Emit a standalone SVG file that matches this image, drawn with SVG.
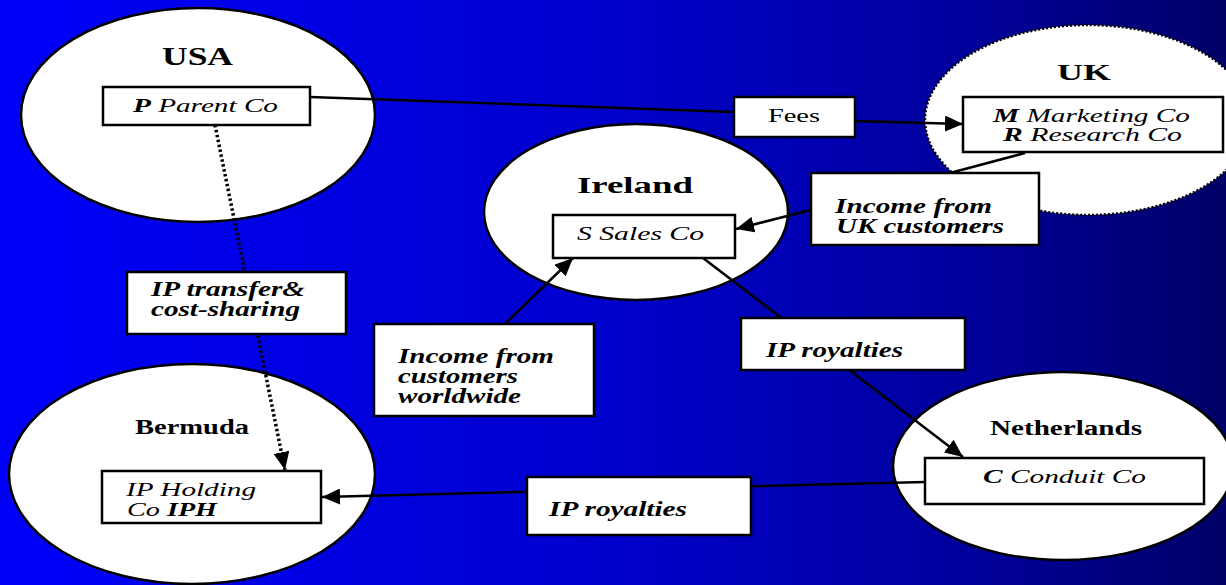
<svg xmlns="http://www.w3.org/2000/svg" width="1226" height="585" viewBox="0 0 1226 585">
<defs>
<linearGradient id="bg" x1="0" y1="0" x2="1" y2="0">
<stop offset="0" stop-color="#0000FA"/>
<stop offset="0.5" stop-color="#0000CC"/>
<stop offset="0.8" stop-color="#00009A"/>
<stop offset="1" stop-color="#000068"/>
</linearGradient>
<marker id="arr" markerUnits="userSpaceOnUse" markerWidth="20" markerHeight="16" refX="18" refY="8" orient="auto">
<path d="M0,0 L18,8 L0,16 z" fill="#000" stroke="none"/>
</marker>
<style>
.country{fill:#fff;stroke:#000;stroke-width:2.5}
.uk{fill:#fff;stroke:#000;stroke-width:2.5;stroke-dasharray:2 2}
.box{fill:#fff;stroke:#000;stroke-width:2.5}
.cname{font-family:"Liberation Serif",serif;font-weight:bold;fill:#000}
.co{font-family:"Liberation Serif",serif;font-style:italic;font-size:19px;fill:#000}
.lbl{font-family:"Liberation Serif",serif;font-style:italic;font-weight:bold;font-size:20px;fill:#000}
.plain{font-family:"Liberation Serif",serif;font-size:19px;fill:#000}
.b{font-weight:bold}
.conn{stroke:#000;stroke-width:2.5;fill:none}
.dot{stroke:#000;stroke-width:3.5;fill:none;stroke-dasharray:2.5 2.5}
</style>
</defs>
<rect x="0" y="0" width="1226" height="585" fill="url(#bg)"/>

<g id="usa">
<ellipse class="country" cx="198" cy="115" rx="177" ry="107"/>
<text class="cname" x="162" y="65" font-size="25" textLength="71" lengthAdjust="spacingAndGlyphs">USA</text>
<rect class="box" x="103" y="87" width="207" height="38"/>
<text class="co" x="133" y="112" textLength="145" lengthAdjust="spacingAndGlyphs"><tspan class="b">P</tspan> Parent Co</text>
</g>

<g id="uk">
<ellipse class="uk" cx="1088" cy="120" rx="163" ry="95"/>
<text class="cname" x="1057" y="80" font-size="24" textLength="54" lengthAdjust="spacingAndGlyphs">UK</text>
<rect class="box" x="963" y="97" width="260" height="55"/>
<text class="co" x="993" y="122" textLength="197" lengthAdjust="spacingAndGlyphs"><tspan class="b">M</tspan> Marketing Co</text>
<text class="co" x="1003" y="141" textLength="179" lengthAdjust="spacingAndGlyphs"><tspan class="b">R</tspan> Research Co</text>
</g>

<g id="ireland">
<ellipse class="country" cx="636" cy="212" rx="152" ry="88"/>
<text class="cname" x="577" y="193" font-size="24" textLength="116" lengthAdjust="spacingAndGlyphs">Ireland</text>
<rect class="box" x="553" y="215" width="182" height="43"/>
<text class="co" x="577" y="240" textLength="127" lengthAdjust="spacingAndGlyphs">S Sales Co</text>
</g>

<g id="bermuda">
<ellipse class="country" cx="192" cy="474" rx="183" ry="110"/>
<text class="cname" x="135" y="434" font-size="20" textLength="114" lengthAdjust="spacingAndGlyphs">Bermuda</text>
<rect class="box" x="102" y="471" width="219" height="52"/>
<text class="co" x="126" y="496" textLength="130" lengthAdjust="spacingAndGlyphs">IP Holding</text>
<text class="co" x="127" y="516" textLength="90" lengthAdjust="spacingAndGlyphs">Co <tspan class="b">IPH</tspan></text>
</g>

<g id="netherlands">
<ellipse class="country" cx="1063" cy="466" rx="170" ry="94"/>
<text class="cname" x="990" y="435" font-size="20" textLength="152" lengthAdjust="spacingAndGlyphs">Netherlands</text>
<rect class="box" x="925" y="458" width="279" height="46"/>
<text class="co" x="983" y="483" textLength="163" lengthAdjust="spacingAndGlyphs"><tspan class="b">C</tspan> Conduit Co</text>
</g>

<g id="connectors">
<line class="conn" x1="310" y1="97" x2="734" y2="112"/>
<line class="conn" x1="855" y1="121" x2="963" y2="124" marker-end="url(#arr)"/>
<line class="conn" x1="1025" y1="153" x2="950" y2="173"/>
<line class="conn" x1="811" y1="210" x2="736" y2="229" marker-end="url(#arr)"/>
<line class="conn" x1="505" y1="324" x2="573" y2="258" marker-end="url(#arr)"/>
<line class="conn" x1="703" y1="258" x2="963" y2="457" marker-end="url(#arr)"/>
<line class="conn" x1="925" y1="482" x2="322" y2="497" marker-end="url(#arr)"/>
<line class="dot" x1="215" y1="125" x2="285" y2="470" marker-end="url(#arr)"/>
</g>

<g id="label-fees">
<rect class="box" x="734" y="97" width="121" height="40"/>
<text class="plain" x="768" y="122" textLength="52" lengthAdjust="spacingAndGlyphs">Fees</text>
</g>

<g id="label-income-uk">
<rect class="box" x="811" y="173" width="228" height="72"/>
<text class="lbl" x="835" y="213" textLength="157" lengthAdjust="spacingAndGlyphs">Income from</text>
<text class="lbl" x="836" y="233" textLength="168" lengthAdjust="spacingAndGlyphs">UK customers</text>
</g>

<g id="label-ip-transfer">
<rect class="box" x="127" y="272" width="219" height="62"/>
<text class="lbl" x="151" y="296" textLength="154" lengthAdjust="spacingAndGlyphs">IP transfer&amp;</text>
<text class="lbl" x="151" y="316" textLength="149" lengthAdjust="spacingAndGlyphs">cost-sharing</text>
</g>

<g id="label-income-world">
<rect class="box" x="374" y="324" width="220" height="92"/>
<text class="lbl" x="398" y="363" textLength="156" lengthAdjust="spacingAndGlyphs">Income from</text>
<text class="lbl" x="398" y="383" textLength="120" lengthAdjust="spacingAndGlyphs">customers</text>
<text class="lbl" x="398" y="403" textLength="123" lengthAdjust="spacingAndGlyphs">worldwide</text>
</g>

<g id="label-ip-royalties-1">
<rect class="box" x="741" y="318" width="224" height="52"/>
<text class="lbl" x="766" y="357" textLength="137" lengthAdjust="spacingAndGlyphs">IP royalties</text>
</g>

<g id="label-ip-royalties-2">
<rect class="box" x="527" y="477" width="224" height="58"/>
<text class="lbl" x="549" y="516" textLength="138" lengthAdjust="spacingAndGlyphs">IP royalties</text>
</g>
</svg>
